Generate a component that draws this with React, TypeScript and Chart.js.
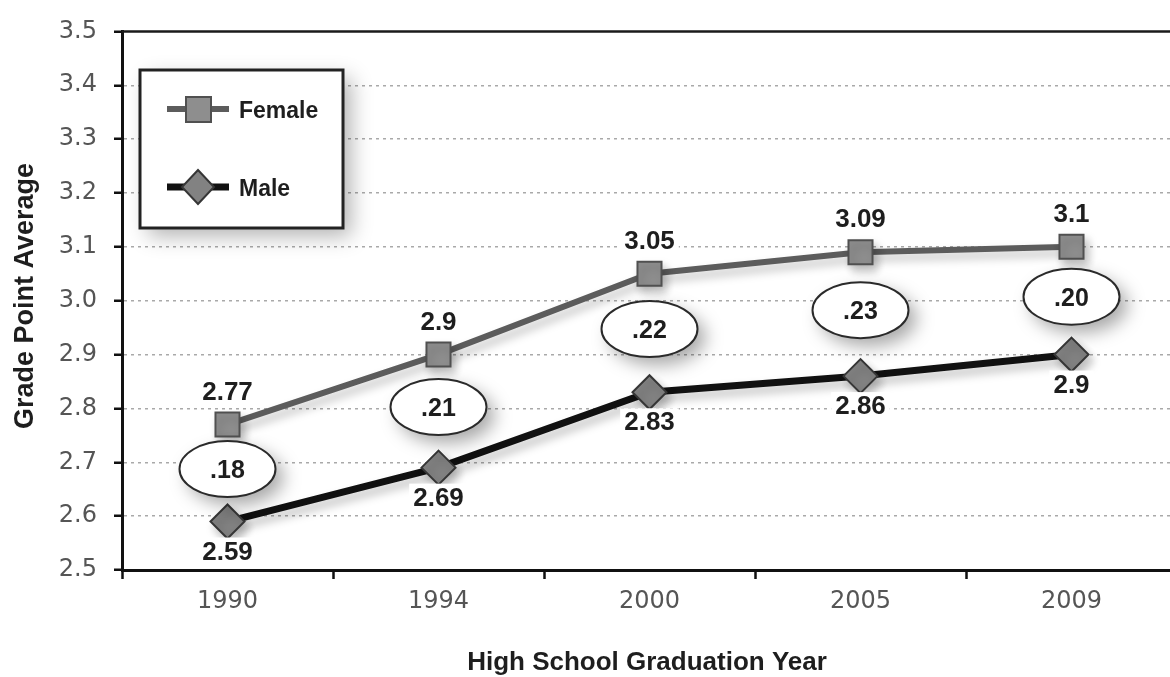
import { useEffect, useRef } from "react";
import { Chart, registerables } from "chart.js";

Chart.register(...registerables);

// Graduation years on the horizontal axis
const years = ["1990", "1994", "2000", "2005", "2009"];
// Average GPA by sex
const femaleGpa = [2.77, 2.9, 3.05, 3.09, 3.1];
const maleGpa = [2.59, 2.69, 2.83, 2.86, 2.9];
// Vertical axis range
const yMin = 2.5;
const yMax = 3.5;
const yStep = 0.1;

const BOLD = '"Liberation Sans", Arial, sans-serif';
const TICK = '"DejaVu Sans", "Liberation Sans", sans-serif';

const CANVAS_W = 1180;
const CANVAS_H = 677;

const gapText = (f: number, m: number) => (f - m).toFixed(2).replace(/^0/, "");

const labelWithBackground = (ctx: CanvasRenderingContext2D, text: string, x: number, y: number) => {
  ctx.font = `bold 26px ${BOLD}`;
  const w = ctx.measureText(text).width;
  ctx.fillStyle = "#ffffff";
  ctx.fillRect(x - w / 2 - 4, y - 13, w + 8, 26);
  ctx.fillStyle = "#1e1e1e";
  ctx.textAlign = "center";
  ctx.textBaseline = "alphabetic";
  ctx.fillText(text, x, y + 9);
};

const overlayPlugin = {
  id: "overlay",
  beforeDatasetDraw(chart: any) {
    const c = chart.ctx;
    c.save();
    c.shadowColor = "rgba(0,0,0,0.25)";
    c.shadowBlur = 10;
    c.shadowOffsetX = 4;
    c.shadowOffsetY = 6;
  },
  afterDatasetDraw(chart: any) {
    chart.ctx.restore();
  },
  afterDatasetsDraw(chart: any) {
    const { ctx, chartArea } = chart;
    const xs = chart.scales.x;
    const ys = chart.scales.y;

    // top frame line
    ctx.save();
    ctx.strokeStyle = "#1a1a1a";
    ctx.lineWidth = 2.5;
    ctx.beginPath();
    ctx.moveTo(chartArea.left, chartArea.top);
    ctx.lineTo(chart.width, chartArea.top);
    ctx.stroke();
    ctx.restore();

    // gap ellipses between the two series
    years.forEach((_, i) => {
      const cx = xs.getPixelForValue(i);
      const cy = ys.getPixelForValue((femaleGpa[i] + maleGpa[i]) / 2) - 4;
      ctx.save();
      ctx.shadowColor = "rgba(0,0,0,0.35)";
      ctx.shadowBlur = 18;
      ctx.shadowOffsetX = 8;
      ctx.shadowOffsetY = 8;
      ctx.beginPath();
      ctx.ellipse(cx, cy, 48, 28, 0, 0, Math.PI * 2);
      ctx.fillStyle = "#ffffff";
      ctx.fill();
      ctx.restore();
      ctx.save();
      ctx.beginPath();
      ctx.ellipse(cx, cy, 48, 28, 0, 0, Math.PI * 2);
      ctx.lineWidth = 2;
      ctx.strokeStyle = "#2a2a2a";
      ctx.stroke();
      ctx.font = `bold 25px ${BOLD}`;
      ctx.fillStyle = "#1e1e1e";
      ctx.textAlign = "center";
      ctx.textBaseline = "alphabetic";
      ctx.fillText(gapText(femaleGpa[i], maleGpa[i]), cx, cy + 9);
      ctx.restore();
    });

    // value labels
    ctx.save();
    femaleGpa.forEach((v, i) => {
      labelWithBackground(ctx, String(v), xs.getPixelForValue(i), ys.getPixelForValue(v) - 34);
    });
    maleGpa.forEach((v, i) => {
      labelWithBackground(ctx, String(v), xs.getPixelForValue(i), ys.getPixelForValue(v) + 29);
    });
    ctx.restore();
  },
  afterDraw(chart: any) {
    const { ctx } = chart;

    // legend box
    const lx = 140, ly = 70, lw = 203, lh = 158;
    ctx.save();
    ctx.shadowColor = "rgba(0,0,0,0.3)";
    ctx.shadowBlur = 20;
    ctx.shadowOffsetX = 8;
    ctx.shadowOffsetY = 8;
    ctx.fillStyle = "#ffffff";
    ctx.fillRect(lx, ly, lw, lh);
    ctx.restore();
    ctx.save();
    ctx.lineWidth = 3;
    ctx.strokeStyle = "#222";
    ctx.strokeRect(lx, ly, lw, lh);

    const items = chart.data.datasets.map((ds: any, i: number) => ({
      label: ds.label,
      line: ds.borderColor,
      lineWidth: ds.borderWidth,
      fill: ds.pointBackgroundColor,
      stroke: ds.pointBorderColor,
      style: ds.pointStyle,
      y: i === 0 ? 109 : 187,
    }));
    items.forEach((it: any) => {
      ctx.strokeStyle = it.line;
      ctx.lineWidth = it.lineWidth;
      ctx.beginPath();
      ctx.moveTo(167, it.y);
      ctx.lineTo(229, it.y);
      ctx.stroke();
      ctx.fillStyle = it.fill;
      ctx.strokeStyle = it.stroke;
      ctx.lineWidth = 2;
      ctx.beginPath();
      if (it.style === "rect") {
        ctx.rect(186, it.y - 12, 25, 25);
      } else {
        ctx.moveTo(198, it.y - 17);
        ctx.lineTo(214, it.y);
        ctx.lineTo(198, it.y + 17);
        ctx.lineTo(182, it.y);
        ctx.closePath();
      }
      ctx.fill();
      ctx.stroke();
      ctx.font = `bold 23px ${BOLD}`;
      ctx.fillStyle = "#1e1e1e";
      ctx.textAlign = "left";
      ctx.textBaseline = "alphabetic";
      ctx.fillText(it.label, 239, it.y + 9);
    });
    ctx.restore();

    // axis titles
    ctx.save();
    ctx.fillStyle = "#1e1e1e";
    ctx.textAlign = "center";
    ctx.textBaseline = "alphabetic";
    ctx.font = `bold 26px ${BOLD}`;
    ctx.fillText("High School Graduation Year", 647, 670);
    ctx.font = `bold 27px ${BOLD}`;
    ctx.translate(33, 296);
    ctx.rotate(-Math.PI / 2);
    ctx.fillText("Grade Point Average", 0, 0);
    ctx.restore();
  },
};

export default function App() {
  const canvasRef = useRef<HTMLCanvasElement | null>(null);

  useEffect(() => {
    const canvas = canvasRef.current;
    if (!canvas) return;
    const chart = new Chart(canvas, {
      type: "line",
      data: {
        labels: years,
        datasets: [
          {
            label: "Female",
            data: femaleGpa,
            borderColor: "#5c5c5c",
            borderWidth: 6,
            pointStyle: "rect",
            pointRadius: 17,
            pointBackgroundColor: "#8e8e8e",
            pointBorderColor: "#505050",
            pointBorderWidth: 2,
            tension: 0,
          },
          {
            label: "Male",
            data: maleGpa,
            borderColor: "#111111",
            borderWidth: 7,
            pointStyle: "rectRot",
            pointRadius: 17,
            pointBackgroundColor: "#828282",
            pointBorderColor: "#363636",
            pointBorderWidth: 2,
            tension: 0,
          },
        ],
      },
      options: {
        responsive: false,
        animation: false,
        devicePixelRatio: 1,
        layout: { autoPadding: false, padding: { top: 23, right: 3, left: 0, bottom: 0 } },
        plugins: { legend: { display: false }, tooltip: { enabled: false } },
        scales: {
          x: {
            offset: true,
            afterFit: (s: any) => {
              s.height = 107;
              s.paddingLeft = 0;
              s.paddingRight = 0;
            },
            grid: {
              offset: true,
              drawOnChartArea: false,
              drawTicks: true,
              tickLength: 9,
              tickColor: "#111",
              tickWidth: 2.5,
            },
            border: { color: "#111", width: 3 },
            ticks: {
              color: "#555",
              padding: 8,
              font: { family: TICK, size: 24 },
            },
          },
          y: {
            min: yMin,
            max: yMax,
            afterFit: (s: any) => {
              s.width = 122;
            },
            ticks: {
              stepSize: yStep,
              color: "#555",
              padding: 17,
              font: { family: TICK, size: 24 },
              callback: (v: any) => Number(v).toFixed(1),
            },
            grid: {
              color: (c: any) => {
                const v = c.tick ? c.tick.value : 0;
                return v <= yMin + 1e-6 || v >= yMax - 1e-6 ? "rgba(0,0,0,0)" : "#a9a9a9";
              },
              lineWidth: 1.5,
              tickLength: 8,
              tickColor: "#111",
              tickWidth: 2.5,
            },
            border: { color: "#111", width: 3, dash: [3, 4] },
          },
        },
      },
      plugins: [overlayPlugin],
    });
    return () => chart.destroy();
  }, []);

  return (
    <div
      style={{
        position: "fixed",
        left: 0,
        top: 0,
        width: 1170,
        height: 677,
        overflow: "hidden",
        background: "#ffffff",
      }}
    >
      <canvas ref={canvasRef} width={CANVAS_W} height={CANVAS_H} style={{ display: "block" }} />
    </div>
  );
}
